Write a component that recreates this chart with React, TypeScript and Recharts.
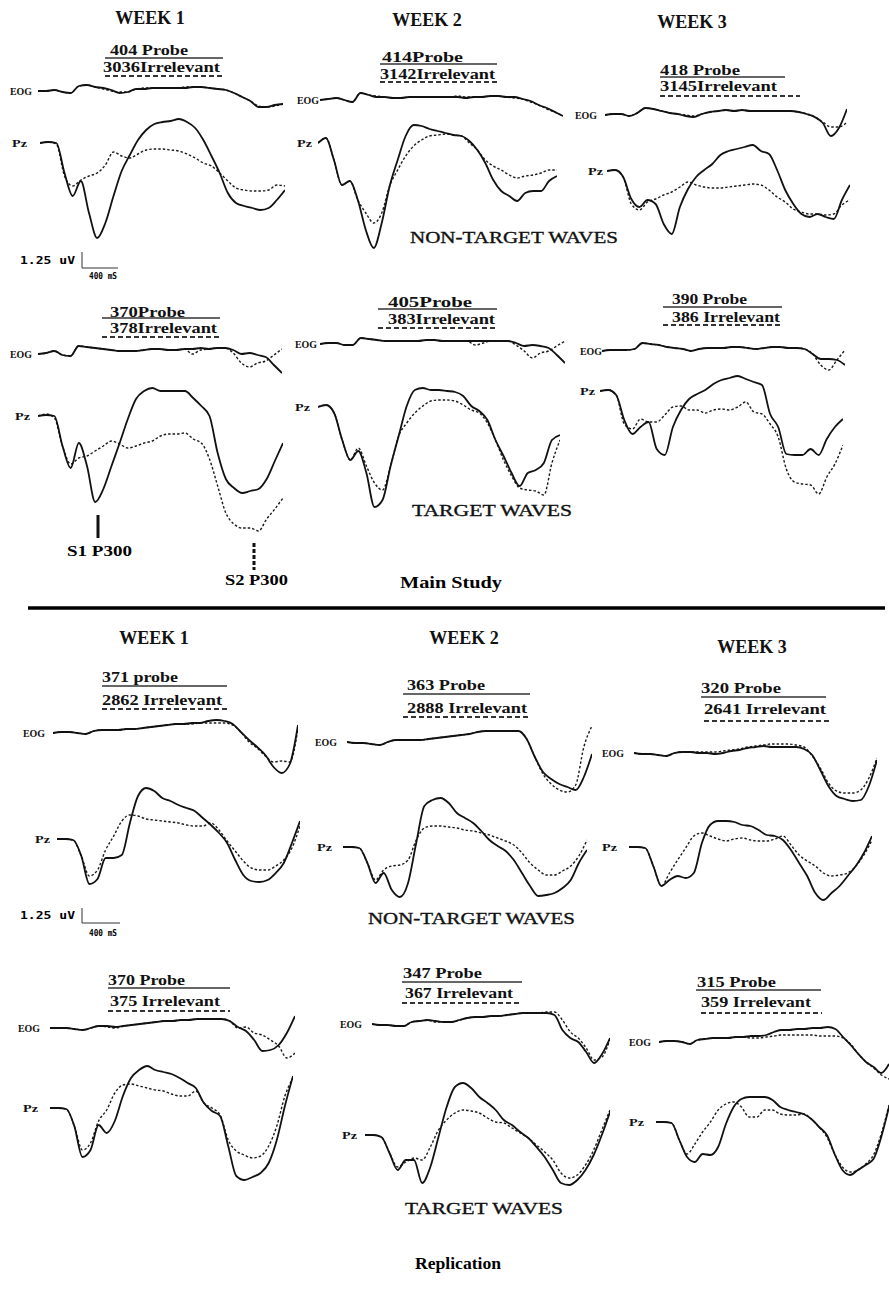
import { LineChart, Line, XAxis, YAxis } from "recharts";

// time base shared by every trace (ms from the start of the pre-stimulus baseline)
const SAMPLE_MS = [0, 100, 200, 300, 400, 500, 600, 700, 800, 900, 1000, 1100, 1200, 1300, 1400, 1500,
  1600, 1700, 1800, 1900, 2000, 2100, 2200, 2300, 2400, 2500, 2600, 2700, 2800, 2900, 3000];

// ---- Main study, non-target waves (uV, positive up) ----
const mainNt1EogProbe = [0, 0, 0.1, -0.1, -0.2, 0.5, 0.6, 0.4, 0.3, 0.1, -0.2, -0.1, 0.2, 0.2, 0.3, 0.3, 0.3, 0.3, 0.3, 0.4, 0.4, 0.3, 0.2, 0.1, -0.2, -0.6, -1.0, -1.6, -1.6, -1.4, -1.3];
const mainNt1EogIrr = [0, 0, 0.1, -0.1, -0.2, 0.5, 0.6, 0.4, 0.2, 0.0, -0.1, -0.1, 0.2, 0.3, 0.3, 0.3, 0.3, 0.3, 0.4, 0.4, 0.4, 0.3, 0.2, 0.1, -0.2, -0.6, -1.0, -1.5, -1.6, -1.5, -1.3];
const mainNt1PzProbe = [0, 0.1, 0, -3.0, -5.3, -3.8, -7.0, -9.5, -8.0, -5.3, -2.8, -1.2, 0.3, 1.3, 1.9, 2.1, 2.2, 2.4, 2.1, 1.5, 0.3, -1.3, -3.0, -5.0, -6.0, -6.3, -6.5, -6.7, -6.5, -5.7, -4.7];
const mainNt1PzIrr = [0, 0.1, -0.1, -3.3, -4.3, -3.7, -3.3, -3.0, -2.2, -0.9, -1.3, -1.5, -1.1, -0.7, -0.6, -0.6, -0.7, -0.8, -1.1, -1.5, -2.0, -2.3, -3.0, -3.8, -4.5, -4.7, -4.8, -4.8, -4.7, -4.2, -4.3];

const mainNt2EogProbe = [0, 0.1, 0.2, 0, -0.2, 0.7, 0.5, 0.3, 0.3, 0.2, 0.2, 0.3, 0.3, 0.3, 0.3, 0.3, 0.3, 0.3, 0.2, 0.3, 0.3, 0.4, 0.4, 0.3, 0.3, 0.1, -0.1, -0.5, -0.8, -1.2, -1.6];
const mainNt2EogIrr = [0, 0.1, 0.2, 0, -0.2, 0.7, 0.5, 0.4, 0.3, 0.2, 0.2, 0.3, 0.3, 0.3, 0.3, 0.3, 0.3, 0.4, 0.3, 0.3, 0.3, 0.4, 0.4, 0.3, 0.2, 0.1, -0.2, -0.5, -0.9, -1.2, -1.6];
const mainNt2PzProbe = [0, 0.5, -1.7, -4.2, -3.8, -5.7, -8.7, -10.5, -8.0, -4.3, -1.7, 0.7, 1.8, 1.7, 1.4, 1.2, 1.0, 0.8, 0.7, 0.2, -0.7, -2.0, -3.7, -4.8, -5.3, -5.8, -5.0, -4.8, -4.8, -3.8, -3.3];
const mainNt2PzIrr = [0, 0.5, -1.7, -4.2, -3.8, -5.7, -7.0, -8.0, -7.0, -4.3, -2.7, -1.3, -0.3, 0.3, 0.7, 0.8, 0.9, 0.8, 0.7, 0, -0.7, -1.7, -2.3, -2.7, -3.2, -3.5, -3.3, -3.2, -3.0, -2.7, -2.7];

const mainNt3EogProbe = [0, 0.1, 0.1, -0.1, 0.2, 0.7, 0.6, 0.4, 0.2, 0.1, -0.1, -0.2, 0.1, 0.3, 0.4, 0.5, 0.4, 0.5, 0.4, 0.4, 0.4, 0.4, 0.4, 0.4, 0.3, 0.1, -0.2, -0.8, -2.1, -1.3, 0.6];
const mainNt3EogIrr = [0, 0.1, 0.1, -0.1, 0.2, 0.7, 0.6, 0.4, 0.2, 0.1, 0, -0.1, 0.1, 0.3, 0.4, 0.5, 0.4, 0.5, 0.4, 0.4, 0.4, 0.4, 0.4, 0.4, 0.3, 0.1, -0.2, -0.7, -1.2, -1.2, -0.7];
const mainNt3PzProbe = [0, 0.1, -0.6, -2.8, -3.6, -2.9, -3.3, -5.3, -6.3, -3.6, -1.8, -0.6, 0.1, 0.7, 1.6, 2.0, 2.2, 2.4, 2.6, 2.0, 1.7, 0.1, -1.9, -3.3, -4.3, -4.6, -4.3, -4.6, -4.8, -2.9, -1.4];
const mainNt3PzIrr = [0, 0.1, -0.6, -3.3, -3.9, -3.1, -2.8, -2.4, -2.1, -1.6, -1.1, -1.4, -1.6, -1.7, -1.7, -1.6, -1.5, -1.4, -1.3, -1.4, -1.9, -2.6, -3.1, -3.8, -4.1, -4.3, -4.3, -4.4, -4.3, -3.4, -2.9];

// ---- Main study, target waves ----
const mainT1EogProbe = [0, 0.1, 0.3, -0.1, -0.2, 0.8, 0.7, 0.6, 0.5, 0.4, 0.3, 0.3, 0.3, 0.4, 0.5, 0.5, 0.4, 0.4, 0.5, 0.5, 0.6, 0.5, 0.6, 0.6, 0.4, 0, 0.1, -0.1, -0.3, -1.1, -1.9];
const mainT1EogIrr = [0, 0.1, 0.3, -0.1, -0.2, 0.8, 0.7, 0.6, 0.5, 0.4, 0.3, 0.3, 0.3, 0.4, 0.5, 0.5, 0.4, 0.4, 0.5, 0.0, 0.4, 0.5, 0.6, 0.6, 0.1, -0.9, -1.3, -0.9, -0.7, -0.1, 0.5];
const mainT1PzProbe = [0, 0.1, 0, -3.0, -5.2, -2.7, -5.0, -8.6, -7.3, -5.0, -2.7, -0.3, 1.7, 2.5, 2.8, 2.5, 2.5, 2.5, 2.5, 1.8, 1.0, 0, -3.7, -6.3, -7.2, -7.7, -7.5, -7.3, -6.3, -4.5, -2.7];
const mainT1PzIrr = [0, 0.2, -0.2, -3.0, -4.8, -4.2, -4.0, -3.5, -3.0, -2.5, -2.8, -3.2, -3.0, -2.7, -2.5, -2.0, -1.8, -1.8, -1.7, -2.3, -2.7, -4.3, -7.0, -9.7, -10.8, -11.2, -11.2, -11.5, -10.3, -9.3, -8.2];

const mainT2EogProbe = [0, 0.1, 0.1, -0.1, -0.1, 0.6, 0.5, 0.4, 0.3, 0.3, 0.3, 0.3, 0.3, 0.4, 0.4, 0.3, 0.3, 0.3, 0.3, 0.3, 0.3, 0.3, 0.3, 0.3, 0.1, -0.2, -0.1, -0.2, -0.4, -1.1, -1.9];
const mainT2EogIrr = [0, 0.1, 0.1, -0.1, -0.1, 0.6, 0.5, 0.4, 0.3, 0.3, 0.3, 0.3, 0.3, 0.4, 0.4, 0.3, 0.3, 0.3, 0.3, -0.1, 0.1, 0.3, 0.3, 0.3, -0.1, -0.7, -1.4, -0.9, -0.7, -0.2, 0.3];
const mainT2PzProbe = [0, 0.2, -0.6, -3.3, -5.3, -4.4, -6.6, -10.0, -9.3, -5.9, -2.9, 0.1, 1.7, 1.9, 1.7, 1.7, 1.6, 1.5, 1.1, 0.1, -0.4, -1.3, -3.3, -4.9, -6.6, -7.9, -6.6, -6.3, -5.6, -3.3, -2.8];
const mainT2PzIrr = [0, 0.2, -0.6, -3.3, -5.3, -4.1, -5.9, -7.6, -8.3, -5.9, -2.9, -1.6, -0.6, 0.1, 0.6, 0.7, 0.7, 0.6, 0.2, -0.3, -0.6, -1.6, -3.3, -5.3, -6.9, -8.1, -8.3, -8.4, -8.8, -5.6, -3.3];

const mainT3EogProbe = [0, 0.1, 0.1, 0.1, 0.2, 0.8, 0.7, 0.6, 0.4, 0.3, 0.2, 0, 0.2, 0.3, 0.3, 0.3, 0.4, 0.4, 0.3, 0.2, 0.3, 0.4, 0.4, 0.3, 0.3, 0.2, -0.3, -0.8, -0.8, -0.9, -1.4];
const mainT3EogIrr = [0, 0.1, 0.1, 0.1, 0.2, 0.8, 0.7, 0.6, 0.4, 0.3, 0.2, 0, 0.2, 0.3, 0.3, 0.3, 0.4, 0.4, 0.3, 0.2, 0.3, 0.4, 0.4, 0.3, 0.3, 0.2, -0.3, -1.4, -1.9, -0.9, 0.1];
const mainT3PzProbe = [0, 0.1, -0.4, -2.9, -4.3, -3.6, -3.1, -5.8, -6.4, -3.6, -1.9, -0.8, -0.3, 0.1, 0.7, 1.1, 1.3, 1.5, 1.2, 0.9, 0.6, -2.3, -3.6, -6.3, -6.4, -6.4, -5.8, -6.4, -4.8, -3.6, -2.8];
const mainT3PzIrr = [0, 0.1, -0.4, -3.3, -3.8, -2.8, -3.1, -3.1, -2.4, -1.6, -1.5, -1.9, -1.9, -2.2, -1.9, -1.8, -1.9, -1.6, -1.1, -2.1, -2.3, -3.3, -4.6, -7.8, -9.1, -9.3, -9.4, -10.3, -8.6, -7.3, -5.4];

// ---- Replication, non-target waves ----
const repNt1EogProbe = [0, 0.1, 0.1, 0, -0.1, 0.2, 0.3, 0.3, 0.3, 0.4, 0.4, 0.5, 0.6, 0.7, 0.8, 0.9, 0.9, 1.0, 1.0, 1.2, 1.3, 1.2, 0.9, 0.1, -0.7, -1.4, -2.2, -3.4, -4.0, -3.1, 0.8];
const repNt1EogIrr = [0, 0.1, 0.1, 0, -0.1, 0.2, 0.3, 0.3, 0.3, 0.4, 0.4, 0.5, 0.6, 0.7, 0.8, 0.9, 0.9, 0.9, 1.0, 1.0, 1.0, 1.0, 0.8, 0.1, -0.9, -1.5, -2.3, -2.9, -2.8, -2.9, 0.5];
const repNt1PzProbe = [0, 0, -0.1, -1.7, -4.5, -4.0, -1.9, -1.9, -1.6, 1.6, 4.3, 5.1, 4.8, 4.1, 3.8, 3.4, 3.1, 2.8, 2.1, 1.4, 0.6, -0.4, -2.1, -3.6, -4.2, -4.3, -4.1, -3.4, -2.4, -0.4, 1.8];
const repNt1PzIrr = [0, 0, -0.1, -1.7, -3.7, -3.1, -1.1, 0.3, 1.8, 2.4, 2.3, 2.0, 1.9, 1.8, 1.7, 1.6, 1.4, 1.3, 1.3, 1.6, 0.9, -0.2, -1.2, -2.2, -2.9, -3.1, -3.1, -2.7, -2.1, -0.9, 1.3];

const repNt2EogProbe = [0, -0.1, -0.1, -0.2, -0.3, 0, 0.2, 0.2, 0.2, 0.2, 0.3, 0.4, 0.5, 0.6, 0.7, 0.8, 1.0, 1.1, 1.1, 1.1, 1.1, 1.1, 0.3, -1.5, -3.0, -3.7, -4.2, -4.5, -4.8, -3.5, -1.2];
const repNt2EogIrr = [0, -0.1, -0.1, -0.2, -0.3, 0, 0.2, 0.2, 0.2, 0.2, 0.3, 0.4, 0.5, 0.6, 0.7, 0.8, 1.0, 1.1, 1.1, 1.1, 1.1, 1.1, 0.3, -1.5, -3.2, -4.2, -4.8, -5.0, -4.3, -0.5, 1.6];
const repNt2PzProbe = [0, 0, -0.1, -1.6, -3.6, -2.6, -4.3, -5.0, -3.6, 0.4, 4.1, 4.7, 4.9, 4.4, 3.4, 2.9, 2.4, 1.6, 0.7, 0.1, -0.4, -1.3, -2.6, -3.9, -4.9, -4.8, -4.6, -4.1, -3.3, -1.6, -0.3];
const repNt2PzIrr = [0, 0, -0.1, -1.6, -3.3, -2.3, -1.9, -1.8, -1.3, 0.7, 1.9, 2.1, 2.1, 2.0, 1.9, 1.7, 1.6, 1.4, 1.2, 0.9, 0.6, 0.2, -0.6, -1.6, -2.3, -2.8, -2.8, -2.4, -1.9, -0.9, 0.7];

const repNt3EogProbe = [0, -0.1, -0.1, -0.2, -0.3, 0, 0.1, 0.1, 0, 0, -0.1, 0, 0.2, 0.3, 0.5, 0.6, 0.7, 0.6, 0.6, 0.6, 0.6, 0.4, -0.2, -1.7, -3.3, -4.3, -4.6, -4.8, -4.7, -3.3, -0.7];
const repNt3EogIrr = [0, -0.1, -0.1, -0.2, -0.3, 0, 0.1, 0.1, 0.1, 0.1, 0.1, 0.2, 0.3, 0.4, 0.6, 0.7, 0.8, 0.9, 0.9, 0.9, 0.8, 0.6, -0.3, -1.5, -3.0, -3.8, -4.0, -4.0, -3.7, -2.5, -0.5];
const repNt3PzProbe = [0, 0, -0.1, -1.9, -3.9, -3.3, -2.9, -3.1, -2.6, 0.4, 2.2, 2.6, 2.6, 2.5, 2.2, 2.1, 1.7, 1.2, 1.1, 0.7, -0.3, -1.6, -2.9, -4.6, -5.3, -4.6, -3.9, -2.9, -1.9, -0.6, 1.1];
const repNt3PzIrr = [0, 0, -0.1, -1.9, -3.9, -2.6, -1.3, -0.1, 1.1, 1.4, 1.1, 0.8, 0.6, 0.8, 0.9, 0.7, 0.6, 0.6, 0.8, 1.1, 0.2, -0.8, -1.4, -1.9, -2.6, -2.9, -2.8, -2.6, -1.9, -0.8, 0.7];

// ---- Replication, target waves ----
const repT1EogProbe = [0, 0, 0, -0.1, -0.2, 0, 0.2, 0.2, 0.1, 0.2, 0.3, 0.4, 0.5, 0.6, 0.7, 0.7, 0.8, 0.8, 0.9, 0.9, 0.9, 0.9, 0.7, 0.1, -0.3, -1.2, -2.3, -2.2, -1.7, -0.5, 1.2];
const repT1EogIrr = [0, 0, 0, -0.1, -0.2, 0, 0.2, 0.1, 0, 0.2, 0.3, 0.4, 0.5, 0.6, 0.7, 0.7, 0.8, 0.8, 0.9, 0.9, 0.9, 0.9, 0.7, 0, 0.1, -0.5, -0.7, -1.2, -1.8, -3.0, -2.5];
const repT1PzProbe = [0, 0, -0.1, -1.8, -4.9, -4.2, -1.7, -2.5, -1.3, 1.2, 3.0, 3.8, 4.2, 3.8, 3.6, 3.4, 3.0, 2.5, 2.0, 0.5, -0.3, -0.8, -3.8, -6.8, -7.2, -6.9, -6.5, -5.5, -3.2, 0.2, 3.2];
const repT1PzIrr = [0, 0, -0.1, -1.8, -4.2, -3.5, -1.3, -0.2, 1.5, 2.3, 2.4, 2.2, 2.0, 1.8, 1.7, 1.4, 1.2, 1.2, 1.7, 0.5, 0, -0.7, -3.2, -4.3, -4.7, -5.0, -4.8, -3.8, -1.8, 1.2, 3.0];

const repT2EogProbe = [0, -0.1, -0.1, -0.2, -0.2, 0.2, 0.3, 0.4, 0.3, 0.2, 0.2, 0.4, 0.6, 0.7, 0.7, 0.8, 0.8, 0.9, 1.0, 1.1, 1.1, 1.1, 1.1, 0.9, -0.6, -1.4, -1.8, -2.8, -3.9, -3.0, -1.4];
const repT2EogIrr = [0, -0.1, -0.1, -0.2, -0.2, 0.2, 0.3, 0.4, 0.2, 0.2, 0.2, 0.4, 0.6, 0.7, 0.7, 0.8, 0.8, 0.9, 1.0, 1.1, 1.1, 1.1, 1.2, 1.2, 0.4, -0.8, -1.4, -2.4, -3.6, -3.3, -1.5];
const repT2PzProbe = [0, 0, -0.2, -1.8, -3.5, -2.5, -2.5, -4.8, -3.2, -0.2, 2.8, 4.8, 5.2, 4.7, 3.8, 3.2, 2.5, 1.5, 1.0, 0.3, -0.3, -1.2, -2.2, -3.5, -4.8, -5.0, -4.5, -3.5, -2.0, 0, 2.3];
const repT2PzIrr = [0, 0, -0.2, -1.8, -3.2, -2.7, -2.3, -2.5, -1.2, 0.5, 1.5, 2.2, 2.5, 2.4, 2.2, 1.7, 1.3, 1.2, 0.7, 0.2, -0.3, -1.0, -1.7, -2.5, -3.8, -4.3, -4.0, -3.0, -1.5, 0.5, 2.5];

const repT3EogProbe = [0, 0.1, 0.1, 0, -0.2, 0.2, 0.3, 0.4, 0.4, 0.4, 0.5, 0.5, 0.6, 0.6, 0.7, 1.0, 1.2, 1.2, 1.3, 1.3, 1.4, 1.4, 1.5, 1.3, 0.5, -0.3, -1.2, -2.0, -2.5, -3.1, -2.2];
const repT3EogIrr = [0, 0.1, 0.1, 0, -0.2, 0.2, 0.3, 0.4, 0.4, 0.4, 0.5, 0.5, 0.4, 0.4, 0.5, 0.6, 0.7, 0.7, 0.7, 0.7, 0.7, 0.6, 0.6, 0.6, 0.4, -0.2, -1.2, -2.0, -2.6, -3.3, -3.7];
const repT3PzProbe = [0, 0, -0.1, -1.8, -3.5, -4.0, -3.2, -3.3, -2.5, -0.2, 1.5, 2.3, 2.5, 2.5, 2.5, 2.2, 1.5, 1.2, 1.0, 0.8, 0.3, -0.5, -1.3, -3.2, -4.8, -5.3, -4.8, -4.3, -3.7, -1.5, 1.5];
const repT3PzIrr = [0, 0, -0.1, -1.8, -3.2, -2.2, -1.0, 0, 1.2, 1.8, 2.0, 1.5, 0.5, 0.5, 1.2, 1.2, 0.8, 0.7, 0.7, 0.8, 0.3, -0.5, -1.5, -3.2, -4.5, -5.0, -4.8, -4.2, -3.3, -1.2, 1.7];

// trial counts shown above each panel
const probeLabels = ["404 Probe", "414Probe", "418 Probe", "370Probe", "405Probe", "390 Probe",
  "371 probe", "363 Probe", "320 Probe", "370 Probe", "347 Probe", "315 Probe"];
const irrLabels = ["3036Irrelevant", "3142Irrelevant", "3145Irrelevant", "378Irrelevant", "383Irrelevant", "386 Irrelevant",
  "2862 Irrelevant", "2888 Irrelevant", "2641 Irrelevant", "375 Irrelevant", "367 Irrelevant", "359 Irrelevant"];

const PX_PER_UV = 10;
const EOG_DOMAIN: [number, number] = [-6, 3];
const PZ_DOMAIN: [number, number] = [-13, 7];
const SERIF = "'Liberation Serif', 'Times New Roman', serif";
const MONO = "'DejaVu Sans Mono', monospace";

type Geo = { left: number; right: number; base: number; labelX: number };

// placement of each panel on the page
const PANELS = [
  { eog: { left: 38, right: 283, base: 91, labelX: 10 }, pz: { left: 40, right: 285, base: 143, labelX: 12 },
    head: { tx: 110, pw: 78, py: 50, ix: 103, iw: 117, iy: 67, lx1: 105, lx2: 223, sy: 58, dx1: 105, dx2: 222, dy: 76 },
    data: [mainNt1EogProbe, mainNt1EogIrr, mainNt1PzProbe, mainNt1PzIrr] },
  { eog: { left: 320, right: 563, base: 100, labelX: 297 }, pz: { left: 318, right: 557, base: 143, labelX: 297 },
    head: { tx: 382, pw: 81, py: 57, ix: 380, iw: 115, iy: 74, lx1: 380, lx2: 497, sy: 64, dx1: 380, dx2: 497, dy: 82 },
    data: [mainNt2EogProbe, mainNt2EogIrr, mainNt2PzProbe, mainNt2PzIrr] },
  { eog: { left: 605, right: 847, base: 115, labelX: 575 }, pz: { left: 607, right: 850, base: 171, labelX: 588 },
    head: { tx: 660, pw: 80, py: 70, ix: 660, iw: 117, iy: 86, lx1: 660, lx2: 785, sy: 77, dx1: 660, dx2: 800, dy: 96 },
    data: [mainNt3EogProbe, mainNt3EogIrr, mainNt3PzProbe, mainNt3PzIrr] },
  { eog: { left: 38, right: 282, base: 354, labelX: 10 }, pz: { left: 38, right: 283, base: 416, labelX: 15 },
    head: { tx: 110, pw: 75, py: 312, ix: 110, iw: 107, iy: 328, lx1: 102, lx2: 220, sy: 318, dx1: 102, dx2: 220, dy: 337 },
    data: [mainT1EogProbe, mainT1EogIrr, mainT1PzProbe, mainT1PzIrr] },
  { eog: { left: 320, right: 565, base: 344, labelX: 295 }, pz: { left: 318, right: 560, base: 407, labelX: 295 },
    head: { tx: 388, pw: 84, py: 302, ix: 388, iw: 107, iy: 319, lx1: 378, lx2: 497, sy: 309, dx1: 378, dx2: 497, dy: 328 },
    data: [mainT2EogProbe, mainT2EogIrr, mainT2PzProbe, mainT2PzIrr] },
  { eog: { left: 602, right: 845, base: 351, labelX: 580 }, pz: { left: 600, right: 843, base: 391, labelX: 580 },
    head: { tx: 672, pw: 75, py: 299, ix: 672, iw: 108, iy: 317, lx1: 663, lx2: 782, sy: 307, dx1: 663, dx2: 782, dy: 325 },
    data: [mainT3EogProbe, mainT3EogIrr, mainT3PzProbe, mainT3PzIrr] },
  { eog: { left: 53, right: 298, base: 733, labelX: 23 }, pz: { left: 57, right: 300, base: 839, labelX: 35 },
    head: { tx: 102, pw: 76, py: 677, ix: 102, iw: 120, iy: 700, lx1: 102, lx2: 227, sy: 686, dx1: 102, dx2: 227, dy: 709 },
    data: [repNt1EogProbe, repNt1EogIrr, repNt1PzProbe, repNt1PzIrr] },
  { eog: { left: 347, right: 592, base: 742, labelX: 315 }, pz: { left: 343, right: 587, base: 847, labelX: 317 },
    head: { tx: 407, pw: 78, py: 685, ix: 407, iw: 120, iy: 708, lx1: 403, lx2: 530, sy: 694, dx1: 403, dx2: 530, dy: 717 },
    data: [repNt2EogProbe, repNt2EogIrr, repNt2PzProbe, repNt2PzIrr] },
  { eog: { left: 634, right: 877, base: 753, labelX: 602 }, pz: { left: 629, right: 872, base: 847, labelX: 602 },
    head: { tx: 701, pw: 80, py: 688, ix: 704, iw: 122, iy: 709, lx1: 701, lx2: 826, sy: 697, dx1: 704, dx2: 831, dy: 721 },
    data: [repNt3EogProbe, repNt3EogIrr, repNt3PzProbe, repNt3PzIrr] },
  { eog: { left: 50, right: 295, base: 1028, labelX: 18 }, pz: { left: 50, right: 293, base: 1108, labelX: 23 },
    head: { tx: 108, pw: 77, py: 980, ix: 110, iw: 110, iy: 1001, lx1: 108, lx2: 230, sy: 988, dx1: 108, dx2: 230, dy: 1011 },
    data: [repT1EogProbe, repT1EogIrr, repT1PzProbe, repT1PzIrr] },
  { eog: { left: 372, right: 610, base: 1024, labelX: 340 }, pz: { left: 365, right: 610, base: 1135, labelX: 342 },
    head: { tx: 403, pw: 79, py: 973, ix: 405, iw: 108, iy: 993, lx1: 402, lx2: 522, sy: 982, dx1: 402, dx2: 522, dy: 1003 },
    data: [repT2EogProbe, repT2EogIrr, repT2PzProbe, repT2PzIrr] },
  { eog: { left: 659, right: 889, base: 1042, labelX: 629 }, pz: { left: 656, right: 889, base: 1122, labelX: 629 },
    head: { tx: 697, pw: 79, py: 982, ix: 701, iw: 110, iy: 1002, lx1: 696, lx2: 821, sy: 990, dx1: 701, dx2: 822, dy: 1013 },
    data: [repT3EogProbe, repT3EogIrr, repT3PzProbe, repT3PzIrr] },
];

const WEEK_TITLES = [
  { text: "WEEK 1", x: 150, y: 18 }, { text: "WEEK 2", x: 427, y: 20 }, { text: "WEEK 3", x: 692, y: 22 },
  { text: "WEEK 1", x: 154, y: 638 }, { text: "WEEK 2", x: 464, y: 638 }, { text: "WEEK 3", x: 752, y: 647 },
];

const Trace = ({ g, probe, irr, domain }: { g: Geo; probe: number[]; irr: number[]; domain: [number, number] }) => {
  const rows = SAMPLE_MS.map((ms, i) => ({ ms, probe: probe[i], irr: irr[i] }));
  const height = (domain[1] - domain[0]) * PX_PER_UV;
  return (
    <div style={{ position: "absolute", left: g.left, top: g.base - domain[1] * PX_PER_UV }}>
      <LineChart width={g.right - g.left} height={height} data={rows}
        margin={{ top: 0, right: 0, bottom: 0, left: 0 }} style={{ overflow: "visible" }}>
        <XAxis dataKey="ms" type="number" domain={[0, 3000]} hide />
        <YAxis type="number" domain={domain} hide width={0} />
        <Line dataKey="irr" type="monotone" stroke="#1a1a1a" strokeWidth={1.4} strokeDasharray="2.5 2"
          dot={false} isAnimationActive={false} />
        <Line dataKey="probe" type="monotone" stroke="#111" strokeWidth={1.8}
          dot={false} isAnimationActive={false} />
      </LineChart>
    </div>
  );
};

const ScaleBar = ({ x, y, h, w, ty }: { x: number; y: number; h: number; w: number; ty: number }) => (
  <g>
    <text x={x - 62} y={y - h / 2} fontFamily={MONO} fontSize={11} fontWeight="bold" dominantBaseline="central"
      textLength={55} lengthAdjust="spacingAndGlyphs">1.25 uV</text>
    <path d={`M${x},${y - h} L${x},${y} L${x + w},${y}`} fill="none" stroke="#333" strokeWidth={1} />
    <text x={x + 7} y={ty} fontFamily={MONO} fontSize={9} fontWeight="bold" dominantBaseline="central"
      textLength={28} lengthAdjust="spacingAndGlyphs">400 mS</text>
  </g>
);

// section captions are set in regular serif, thickened slightly like the print
const caption = { fontFamily: SERIF, fontSize: 17, fill: "#111", stroke: "#111", strokeWidth: 0.35 };

export default function App() {
  return (
    <div style={{ position: "absolute", left: 0, top: 0, width: 889, height: 1294, background: "#fff", overflow: "hidden" }}>
      {PANELS.map((p, i) => (
        <div key={`eog${i}`}>
          <Trace g={p.eog} probe={p.data[0]} irr={p.data[1]} domain={EOG_DOMAIN} />
          <Trace g={p.pz} probe={p.data[2]} irr={p.data[3]} domain={PZ_DOMAIN} />
        </div>
      ))}
      <svg width={889} height={1294} style={{ position: "absolute", left: 0, top: 0, pointerEvents: "none" }}>
        {WEEK_TITLES.map((t, i) => (
          <text key={i} x={t.x} y={t.y} textAnchor="middle" dominantBaseline="central" fontFamily={SERIF}
            fontWeight="bold" fontSize={18} fill="#111">{t.text}</text>
        ))}
        {PANELS.map((p, i) => {
          const h = p.head;
          return (
            <g key={i} fill="#111">
              <text x={h.tx} y={h.py} dominantBaseline="central" fontFamily={SERIF} fontWeight="bold" fontSize={14}
                textLength={h.pw} lengthAdjust="spacingAndGlyphs">{probeLabels[i]}</text>
              <line x1={h.lx1} x2={h.lx2} y1={h.sy} y2={h.sy} stroke="#333" strokeWidth={1.5} />
              <text x={h.ix} y={h.iy} dominantBaseline="central" fontFamily={SERIF} fontWeight="bold" fontSize={14}
                textLength={h.iw} lengthAdjust="spacingAndGlyphs">{irrLabels[i]}</text>
              <line x1={h.dx1} x2={h.dx2} y1={h.dy} y2={h.dy} stroke="#333" strokeWidth={1.8} strokeDasharray="5 3" />
              <text x={p.eog.labelX} y={p.eog.base} dominantBaseline="central" fontFamily={SERIF} fontWeight="bold"
                fontSize={10} textLength={22} lengthAdjust="spacingAndGlyphs">EOG</text>
              <text x={p.pz.labelX} y={p.pz.base} dominantBaseline="central" fontFamily={SERIF} fontWeight="bold"
                fontSize={10} textLength={15} lengthAdjust="spacingAndGlyphs">Pz</text>
            </g>
          );
        })}

        <ScaleBar x={82} y={268} h={16} w={36} ty={276} />
        <ScaleBar x={82} y={923} h={15} w={38} ty={933} />

        {/* P300 markers under the week-1 target waves */}
        <line x1={98} x2={98} y1={515} y2={538} stroke="#111" strokeWidth={3} />
        <text x={67} y={551} dominantBaseline="central" fontFamily={SERIF} fontWeight="bold" fontSize={15}
          textLength={65} lengthAdjust="spacingAndGlyphs">S1 P300</text>
        <line x1={254} x2={254} y1={543} y2={570} stroke="#111" strokeWidth={3} strokeDasharray="4 2" />
        <text x={225} y={580} dominantBaseline="central" fontFamily={SERIF} fontWeight="bold" fontSize={15}
          textLength={63} lengthAdjust="spacingAndGlyphs">S2 P300</text>

        <text x={410} y={237} dominantBaseline="central" {...caption}
          textLength={208} lengthAdjust="spacingAndGlyphs">NON-TARGET WAVES</text>
        <text x={412} y={510} dominantBaseline="central" {...caption}
          textLength={160} lengthAdjust="spacingAndGlyphs">TARGET WAVES</text>
        <text x={400} y={582} dominantBaseline="central" fontFamily={SERIF} fontWeight="bold" fontSize={16}
          textLength={102} lengthAdjust="spacingAndGlyphs">Main Study</text>

        <line x1={28} x2={885} y1={608} y2={608} stroke="#000" strokeWidth={3.5} />

        <text x={368} y={918} dominantBaseline="central" {...caption}
          textLength={207} lengthAdjust="spacingAndGlyphs">NON-TARGET WAVES</text>
        <text x={405} y={1208} dominantBaseline="central" {...caption}
          textLength={158} lengthAdjust="spacingAndGlyphs">TARGET WAVES</text>
        <text x={415} y={1263} dominantBaseline="central" fontFamily={SERIF} fontWeight="bold" fontSize={16}
          textLength={86} lengthAdjust="spacingAndGlyphs">Replication</text>
      </svg>
    </div>
  );
}
